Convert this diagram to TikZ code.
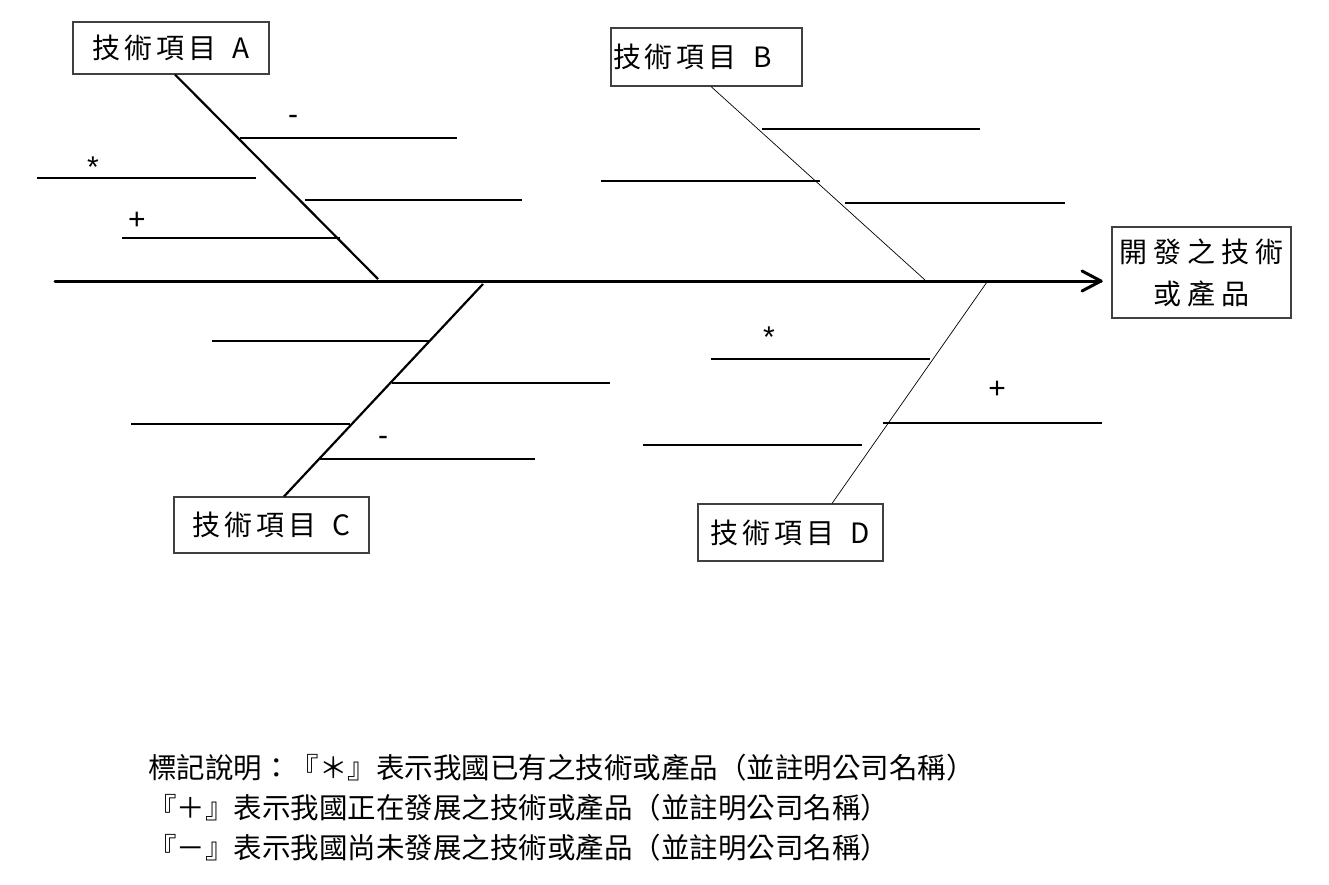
\documentclass[tikz,border=0pt]{standalone}
\usepackage{fontspec}
\setmainfont{Liberation Sans}
\newfontfamily\cjk{Noto Sans CJK TC}
\usetikzlibrary{calc}
\newcommand{\gapbox}{\hspace{4pt}}
\newcommand{\gapres}{\hspace{6pt}}
\begin{document}
\begin{tikzpicture}[x=1pt,y=-1pt,
  box/.style={draw=black!75, line width=1.1pt, inner sep=0pt, font=\cjk\fontsize{28}{32}\selectfont},
  spine/.style={line width=3pt, line cap=round, line join=round},
  bonethick/.style={line width=2.2pt},
  bonethin/.style={line width=0.7pt},
  rib/.style={line width=2.4pt},
  sym/.style={anchor=base, inner sep=0pt, font=\fontsize{30}{34}\selectfont},
  legend/.style={anchor=west, inner sep=0pt, font=\cjk\fontsize{28.5}{34}\selectfont}
]
\useasboundingbox (0,0) rectangle (1329,884);
\fill[white] (0,0) rectangle (1329,884);

% boxes
\node[box, minimum width=196pt, minimum height=52pt] (A) at (171,48) {技\gapbox 術\gapbox 項\gapbox 目\hspace{16pt}A};
\node[box, minimum width=191pt, minimum height=58pt, inner xsep=2pt, text width=187pt, align=left] (B) at (706.5,57) {技\gapbox 術\gapbox 項\gapbox 目\hspace{16pt}B};
\node[box, minimum width=195pt, minimum height=56pt] (C) at (271.5,525) {技\gapbox 術\gapbox 項\gapbox 目\hspace{16pt}C};
\node[box, minimum width=185pt, minimum height=57pt] (D) at (790.5,532.5) {技\gapbox 術\gapbox 項\gapbox 目\hspace{16pt}D};
\node[box, minimum width=179pt, minimum height=91pt, align=center, font=\cjk\fontsize{28}{42}\selectfont] (R) at (1201.5,272.5) {開\gapres 發\gapres 之\gapres 技\gapres 術\\或\gapres 產\gapres 品};

% spine
\coordinate (s0) at (55,281);
\coordinate (s1) at (1101,281);
\draw[spine] (s0) -- (s1);
\draw[spine] ($(s1)+(-19,-10)$) -- (s1) -- ($(s1)+(-19,10)$);

% bones
\coordinate (a1) at (378,279);
\coordinate (b1) at (925,280);
\coordinate (c1) at (483,284);
\coordinate (d1) at (987,282);
\draw[bonethick] ([xshift=4pt]A.south) -- (a1);
\draw[bonethin] ([xshift=4.5pt]B.south) -- (b1);
\draw[bonethick] (c1) -- ([xshift=12.5pt]C.north);
\draw[bonethin] (d1) -- ([xshift=41.5pt]D.north);

% ribs A
\draw[rib] (240,138) -- (457,138);
\draw[rib] (37,178) -- (256,178);
\draw[rib] (305,200) -- (522,200);
\draw[rib] (122,238) -- (340,238);
% ribs B
\draw[rib] (762,129) -- (980,129);
\draw[rib] (601,181) -- (820,181);
\draw[rib] (845,203) -- (1065,203);
% ribs C
\draw[rib] (212,341) -- (430,341);
\draw[rib] (392,383) -- (610,383);
\draw[rib] (131,424) -- (350,424);
\draw[rib] (318,459) -- (535,459);
% ribs D
\draw[rib] (711,359) -- (930,359);
\draw[rib] (883,423) -- (1102,423);
\draw[rib] (643,445) -- (862,445);

% symbols
\node[sym] (m1) at (293,124) {-};
\node[sym] (m2) at (93,177) {*};
\node[sym] (m3) at (137,229) {+};
\node[sym] (m4) at (383,445) {-};
\node[sym] (m5) at (769,347) {*};
\node[sym] (m6) at (997,398) {+};

% legend
\node[legend] (L1) at (148,768) {標記說明：『＊』表示我國已有之技術或產品（並註明公司名稱）};
\node[legend] (L2) at (148,808) {『＋』表示我國正在發展之技術或產品（並註明公司名稱）};
\node[legend] (L3) at (148,848) {『－』表示我國尚未發展之技術或產品（並註明公司名稱）};
\end{tikzpicture}
\end{document}
